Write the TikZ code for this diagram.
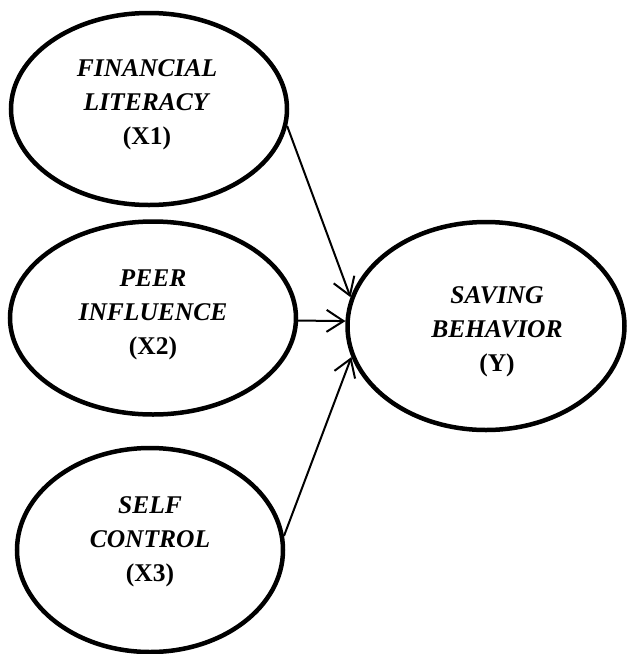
\documentclass[tikz,border=0pt]{standalone}
\usepackage{fontspec}
\setmainfont{Liberation Serif}
\usetikzlibrary{shapes.geometric,arrows.meta}
\tikzset{
  latent/.style={ellipse, draw=black, line width=4.5pt, inner sep=0pt},
  lbl/.style={align=center, inner sep=0pt, font=\fontsize{25.5}{34}\selectfont},
  path/.style={draw=black, line width=2pt, -{Straight Barb[length=17pt, width=22pt, line width=2pt]}}
}
\begin{document}
\begin{tikzpicture}[x=1pt, y=-1pt]
\useasboundingbox (0,0) rectangle (627,654);
\node[latent, minimum width=276pt, minimum height=192pt] (X1) at (149,109) {};
\node[latent, minimum width=286pt, minimum height=193pt] (X2) at (153,318) {};
\node[latent, minimum width=266pt, minimum height=204pt] (X3) at (150,550) {};
\node[latent, minimum width=277pt, minimum height=208pt] (Y) at (486,326) {};
\node[lbl] (X1t) at (147,105) {\textbf{\textit{FINANCIAL}}\\ \textbf{\textit{LITERACY}}\\ \textbf{(X1)}};
\node[lbl] (X2t) at (153,315) {\textbf{\textit{PEER}}\\ \textbf{\textit{INFLUENCE}}\\ \textbf{(X2)}};
\node[lbl] (X3t) at (150,542) {\textbf{\textit{SELF}}\\ \textbf{\textit{CONTROL}}\\ \textbf{(X3)}};
\node[lbl] (Yt) at (497,332) {\textbf{\textit{SAVING}}\\ \textbf{\textit{BEHAVIOR}}\\ \textbf{(Y)}};
\draw[path] (X1.-7.6) -- (Y.168.4);
\draw[path] (X2.-1.5) -- (Y.178);
\draw[path] (X3.6.4) -- (Y.193.4);
\end{tikzpicture}
\end{document}
